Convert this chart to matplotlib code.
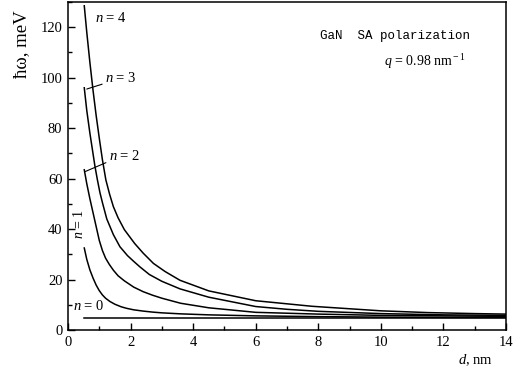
import matplotlib
matplotlib.use("Agg")
import matplotlib.pyplot as plt
from matplotlib.ticker import MultipleLocator

plt.rcParams['font.family'] = ['Liberation Serif', 'DejaVu Serif']
plt.rcParams['mathtext.fontset'] = 'custom'
plt.rcParams['mathtext.rm'] = 'Liberation Serif'
plt.rcParams['mathtext.it'] = 'Liberation Serif:italic'

# phonon energies (meV) vs layer thickness d (nm)
d_n0 = [0.52, 14.0]
e_n0 = [4.7, 4.7]

d_n1 = [0.52, 0.6, 0.7, 0.8, 0.9, 1.0, 1.1, 1.2, 1.34, 1.5, 1.7, 1.87, 2.1, 2.4,
        2.7, 3.0, 3.6, 4.5, 6.0, 8.0, 10.0, 12.0, 14.0]
e_n1 = [32.5, 28.0, 23.8, 20.6, 17.8, 15.6, 13.9, 12.6, 11.3, 10.2, 9.2, 8.6, 8.0, 7.5,
        7.1, 6.8, 6.4, 6.0, 5.6, 5.3, 5.1, 5.0, 5.0]

d_n2 = [0.52, 0.6, 0.7, 0.8, 0.9, 1.0, 1.1, 1.2, 1.32, 1.45, 1.6, 1.8, 2.1, 2.4,
        2.7, 3.0, 3.6, 4.5, 6.0, 8.0, 10.0, 12.0, 14.0]
e_n2 = [63.5, 58.0, 52.0, 46.5, 41.0, 35.5, 31.5, 28.5, 26.0, 23.7, 21.5, 19.5, 17.0, 15.2,
        13.8, 12.6, 10.6, 8.8, 7.0, 6.3, 5.8, 5.6, 5.4]

d_n3 = [0.52, 0.6, 0.7, 0.78, 0.86, 0.94, 1.02, 1.1, 1.24, 1.45, 1.66, 1.9, 2.1, 2.3,
        2.6, 3.0, 3.58, 4.5, 6.0, 7.0, 8.0, 10.0, 12.0, 14.0]
e_n3 = [96.0, 87.0, 78.0, 71.5, 65.0, 59.5, 54.5, 50.5, 44.0, 37.8, 33.0, 29.5, 27.2, 25.0,
        22.0, 19.3, 16.3, 13.0, 9.3, 8.2, 7.4, 6.5, 6.0, 5.8]

d_n4 = [0.52, 0.6, 0.7, 0.8, 0.9, 1.0, 1.1, 1.21, 1.33, 1.45, 1.6, 1.8, 2.13, 2.4,
        2.73, 3.1, 3.58, 4.5, 6.0, 7.8, 10.0, 11.5, 13.0, 14.0]
e_n4 = [128.5, 118.0, 106.0, 95.0, 85.0, 76.0, 67.5, 59.5, 53.8, 48.9, 44.5, 39.8, 34.3, 30.5,
        26.4, 23.2, 19.7, 15.5, 11.6, 9.4, 7.6, 6.9, 6.5, 6.3]

curves = [(d_n0, e_n0), (d_n1, e_n1), (d_n2, e_n2), (d_n3, e_n3), (d_n4, e_n4)]

fig = plt.figure(figsize=(5.21, 3.72), dpi=100)
ax = fig.add_axes([68 / 521, 42 / 372, 438 / 521, 328 / 372])

for d, e in curves:
    ax.plot(d, e, color='black', lw=1.1)

ax.set_xlim(0, 14)
ax.set_ylim(0, 130)
ax.xaxis.set_major_locator(MultipleLocator(2))
ax.xaxis.set_minor_locator(MultipleLocator(1))
ax.yaxis.set_major_locator(MultipleLocator(20))
ax.yaxis.set_minor_locator(MultipleLocator(10))
ax.tick_params(which='both', direction='in', labelsize=10.5, width=1.0)
ax.tick_params(which='major', length=5, pad=4)
ax.tick_params(which='minor', length=3)
for s in ax.spines.values():
    s.set_linewidth(1.1)

# curve labels
fs = 10.5
ax.text(0.86, 123.5, r"$n$ = 4", fontsize=fs, ha='left', va='center')
ax.annotate(r"$n$ = 3", xy=(0.6, 95.5), xytext=(1.18, 100.0), fontsize=fs,
            ha='left', va='center',
            arrowprops=dict(arrowstyle='-', lw=0.8, shrinkA=0, shrinkB=0,
                            relpos=(0, 0.1)))
ax.annotate(r"$n$ = 2", xy=(0.55, 62.8), xytext=(1.3, 69.0), fontsize=fs,
            ha='left', va='center',
            arrowprops=dict(arrowstyle='-', lw=0.8, shrinkA=0, shrinkB=0,
                            relpos=(0, 0.1)))
ax.text(0.34, 42.0, r"$n$ = 1", fontsize=10, rotation=90, ha='center', va='center')
ax.text(0.16, 9.4, r"$n$ = 0", fontsize=fs, ha='left', va='center')

ax.text(8.05, 116.4, "GaN  SA polarization", fontsize=9,
        family=['Liberation Mono', 'DejaVu Sans Mono'], ha='left', va='center')
ax.text(10.1, 106.5, r"$q$ = 0.98 nm$^{\rm -1}$", fontsize=10, ha='left', va='center')

fig.text(22 / 521, 1 - 44 / 372, "ħω, meV", fontsize=13.5, rotation=90,
         ha='center', va='center')
fig.text(476 / 521, 1 - 360 / 372, r"$d$, nm", fontsize=10.5, ha='center', va='center')

fig.savefig("out.png", dpi=100)
